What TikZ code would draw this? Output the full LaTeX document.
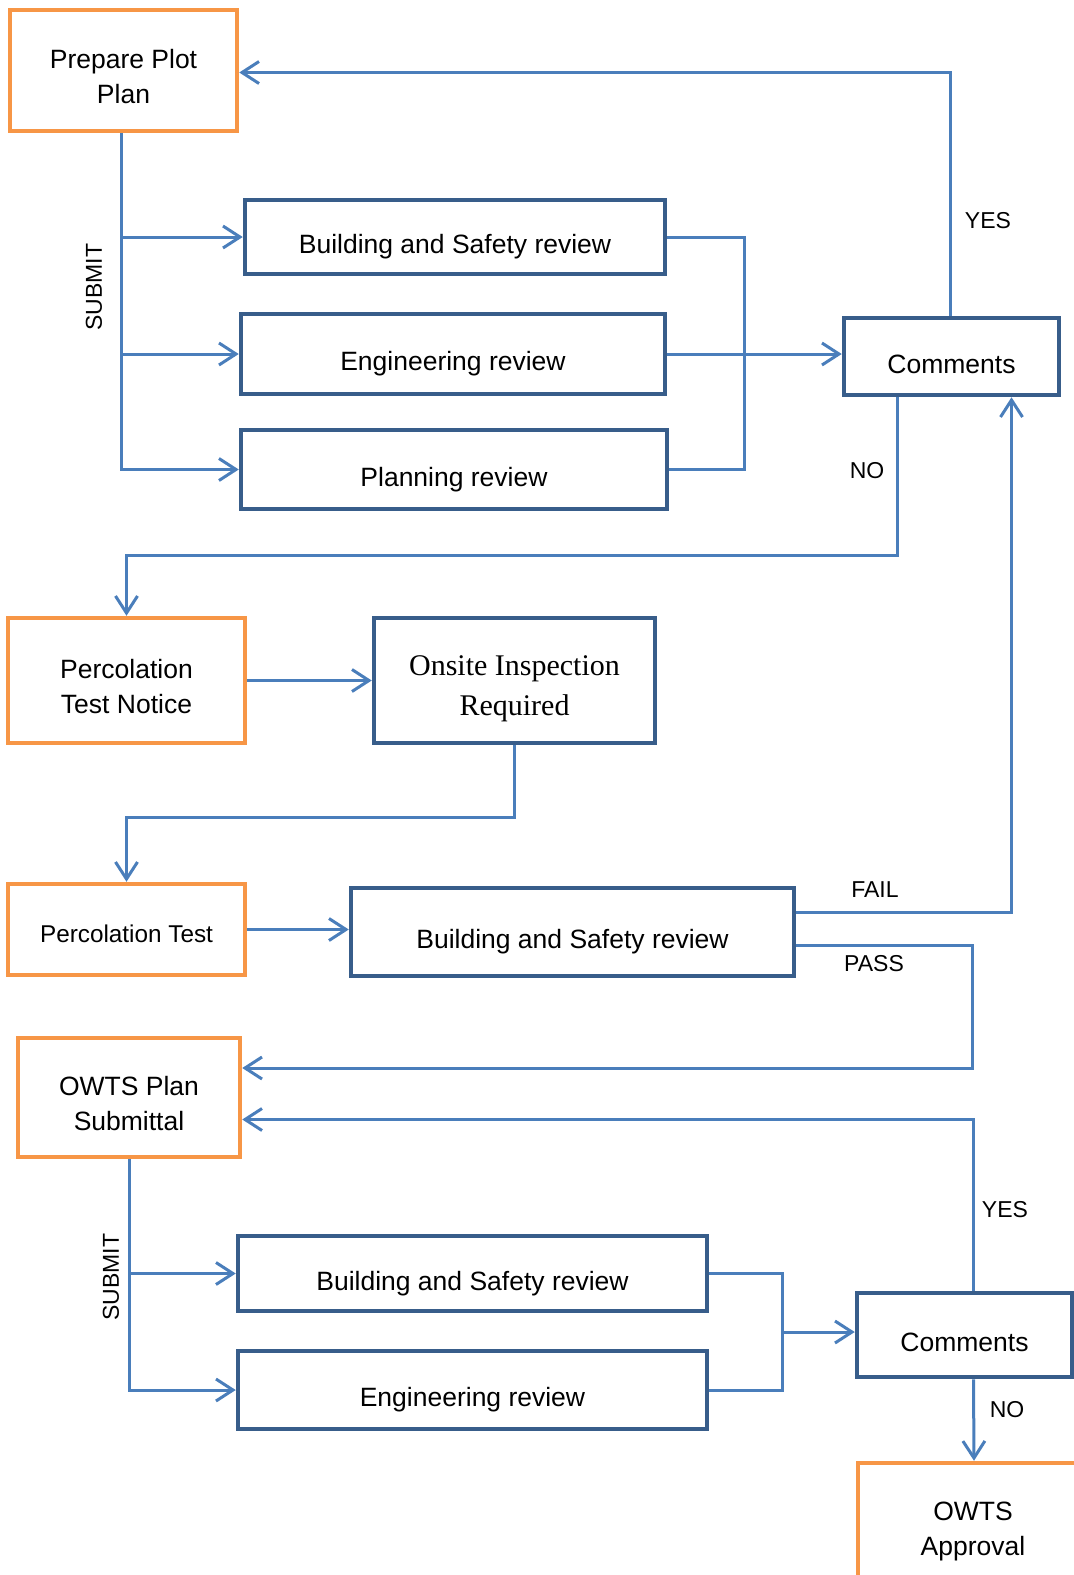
\documentclass[tikz,border=0pt]{standalone}
\usepackage{fontspec}
\setmainfont{Liberation Sans}
\newfontfamily\timesfont{Liberation Serif}
\usepackage{tikz}
\usetikzlibrary{arrows.meta,calc,positioning}

\definecolor{boxorange}{HTML}{F79646}
\definecolor{boxblue}{HTML}{385D8A}
\definecolor{lineblue}{HTML}{4A7EBB}

% pushes a two-line text down a little inside its box
\newcommand{\lift}[1][31pt]{\rule{0pt}{#1}}

\begin{document}
\begin{tikzpicture}[x=1pt,y=-1pt,
orangebox/.style={rectangle,draw=boxorange,line width=4.5pt,align=center,inner sep=0pt,
  font=\fontsize{26.5}{35}\selectfont},
bluebox/.style={rectangle,draw=boxblue,line width=4.5pt,align=center,inner sep=0pt,
  font=\fontsize{26.5}{35}\selectfont},
oneline/.style={text height=33pt,text depth=0pt},
wire/.style={draw=lineblue,line width=3pt},
link/.style={wire,-{Straight Barb[length=17pt,width=22pt,line width=3pt]}},
lbl/.style={font=\fontsize{23}{28}\selectfont}]
\useasboundingbox (0,0) rectangle (1074,1575);
\clip (0,0) rectangle (1074,1575);

\node (ppp) at (123.5,70.5) [orangebox,minimum width=227,minimum height=121] {\lift Prepare Plot\\Plan};
\node (bs1) at (455,237) [bluebox,oneline,minimum width=420,minimum height=74] {Building and Safety review};
\node (eng1) at (453,354) [bluebox,oneline,minimum width=424,minimum height=80] {Engineering review};
\node (plan1) at (454,469.5) [bluebox,oneline,minimum width=426,minimum height=79] {Planning review};
\node (com1) at (951.5,356.5) [bluebox,oneline,minimum width=215,minimum height=77] {Comments};
\node (ptn) at (126.5,680.5) [orangebox,minimum width=237,minimum height=125] {\lift Percolation\\Test Notice};
\node (onsite) at (514.5,680.5) [bluebox,minimum width=281,minimum height=125,
  font=\timesfont\fontsize{30}{40}\selectfont] {\lift[36pt]Onsite Inspection\\Required};
\node (pt) at (126.5,929.5) [orangebox,oneline,text height=26pt,minimum width=237,minimum height=91,
  font=\fontsize{24.3}{30}\selectfont] {Percolation Test};
\node (bs2) at (572.5,932) [bluebox,oneline,minimum width=443,minimum height=88] {Building and Safety review};
\node (owts) at (129,1097.5) [orangebox,minimum width=222,minimum height=119] {\lift OWTS Plan\\Submittal};
\node (bs3) at (472.5,1273.5) [bluebox,oneline,minimum width=469,minimum height=75] {Building and Safety review};
\node (eng3) at (472.5,1390) [bluebox,oneline,minimum width=469,minimum height=78] {Engineering review};
\node (com2) at (964.5,1335) [bluebox,oneline,minimum width=215,minimum height=84] {Comments};
\node (appr) at (973,1525) [orangebox,minimum width=230,minimum height=124] {\lift OWTS\\Approval};

% labels
\node (sub1) at (94,287) [lbl,rotate=90] {SUBMIT};
\node (sub2) at (111,1277) [lbl,rotate=90] {SUBMIT};
\node (yes1) at (988,221) [lbl] {YES};
\node (no1) at (867,471) [lbl] {NO};
\node (fail) at (875,890) [lbl] {FAIL};
\node (pass) at (874,964) [lbl] {PASS};
\node (yes2) at (1005,1210) [lbl] {YES};
\node (no2) at (1007,1410) [lbl] {NO};

\coordinate (mrg1) at (744,354);
\coordinate (mrg2) at (782,1332);
\coordinate (passbend) at (972,1068);

\draw[link] (ppp.south -| 121,0) |- (bs1.west);
\draw[link] (ppp.south -| 121,0) |- (eng1.west);
\draw[link] (ppp.south -| 121,0) |- (plan1.west);
\draw[wire] (bs1.east) -| (mrg1) |- (plan1.east);
\draw[link] (eng1.east) -- (eng1.east -| com1.west);
\draw[link] (com1.north -| 950,0) |- ($(ppp.east)+(0,2)$);
\draw[link] ($(com1.south)+(-54,0)$) |- ($(ptn.north)+(0,-60)$) -- (ptn.north);
\draw[link] (ptn.east) -- (ptn.east -| onsite.west);
\draw[link] (onsite.south) |- ($(pt.north)+(0,-64)$) -- (pt.north);
\draw[link] (pt.east) -- (pt.east -| bs2.west);
\draw[link] ($(bs2.east)+(0,-20)$) -| ($(com1.south)+(60,0)$);
\draw[link] ($(bs2.east)+(0,13)$) -| (passbend) -- (passbend -| owts.east);
\draw[link] ($(com2.north)+(9,0)$) |- ($(owts.east)+(0,22)$);
\draw[link] (owts.south) |- (bs3.west);
\draw[link] (owts.south) |- (eng3.west);
\draw[wire] (bs3.east) -| (mrg2) |- (eng3.east);
\draw[link] (mrg2) -- (mrg2 -| com2.west);
\draw[link] ($(com2.south)+(9,0)$) -- ($(appr.north)+(1,0)$);

\end{tikzpicture}
\end{document}
